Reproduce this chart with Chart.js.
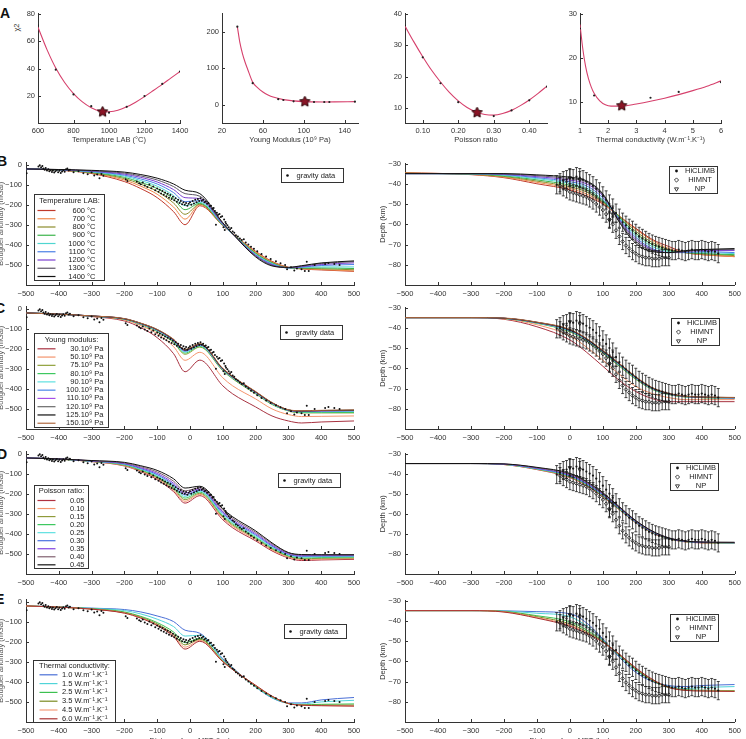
<!DOCTYPE html>
<html>
<head>
<meta charset="utf-8">
<script src="https://cdn.jsdelivr.net/npm/chart.js@4.4.1/dist/chart.umd.min.js"></script>
<style>
html, body { margin: 0; padding: 0; background: #fff; overflow: hidden; }
body { position: relative; width: 746px; height: 739px; font-family: "Liberation Sans", Arial, sans-serif; }
canvas { position: absolute; }
.letter { position: absolute; font: bold 14px "Liberation Sans", Arial, sans-serif; line-height: 14px; color: #111; }
.ytitle { position: absolute; font-size: 7.5px; color: #333; width: 20px; text-align: center; transform: rotate(-90deg); }
</style>
</head>
<body>
<div class="letter" style="left:0px; top:6px">A</div>
<div class="letter" style="left:-3px; top:154px">B</div>
<div class="letter" style="left:-5px; top:301px">C</div>
<div class="letter" style="left:-3px; top:447px">D</div>
<div class="letter" style="left:-5px; top:592px">E</div>
<div class="ytitle" style="left:6px; top:23px">χ2</div>
<script>
// ---- panel A : chi-square misfit for each parameter ----
const tempSteps = [600, 700, 800, 900, 1000, 1100, 1200, 1300, 1400]
const tempChi = [71.4, 39.3, 21.4, 12.9, 8.2, 12.4, 20.2, 29, 38]
const tempFitX = [600, 650, 700, 750, 800, 850, 900, 950, 980, 1000, 1050, 1100, 1150, 1200, 1250, 1300, 1350, 1400]
const tempFitY = [70, 54, 40.5, 30, 22, 16, 11.8, 9.3, 8.7, 8.8, 10, 12.4, 15.8, 19.8, 24.2, 28.7, 33.4, 38]
const tempBest = [964, 8.8]

const youngSteps = [35, 50, 75, 80, 90, 100, 110, 120, 125, 150]
const youngChi = [214, 59, 15.4, 13, 9.5, 8.5, 7.5, 7.5, 7.5, 8.5]
const youngFitX = [35, 37.5, 40, 42.5, 45, 50, 55, 60, 65, 70, 80, 90, 100, 110, 120, 130, 150]
const youngFitY = [214, 170, 140, 117, 98, 62, 46, 35, 27, 21, 14, 10.5, 8.6, 7.8, 7.6, 7.8, 8.6]
const youngBest = [101, 8.5]

const poissonSteps = [0.05, 0.10, 0.15, 0.20, 0.25, 0.30, 0.35, 0.40, 0.45]
const poissonChi = [36.2, 26.1, 17.9, 11.9, 8.5, 7.5, 9.3, 12.5, 16.8]
const poissonFitX = [0.05, 0.075, 0.10, 0.125, 0.15, 0.175, 0.20, 0.225, 0.25, 0.275, 0.30, 0.325, 0.35, 0.375, 0.40, 0.425, 0.45]
const poissonFitY = [36, 31, 26.3, 22, 18.3, 15, 12.3, 10.2, 8.8, 8, 7.8, 8.3, 9.3, 10.8, 12.6, 14.7, 17]
const poissonBest = [0.253, 8.6]

const condSteps = [1, 1.5, 2.5, 3.5, 4.5, 6]
const condChi = [26.6, 11.5, 9.6, 11, 12.3, 14.5]
const condFitX = [1, 1.1, 1.2, 1.3, 1.4, 1.5, 1.7, 1.9, 2.1, 2.5, 3, 3.5, 4, 4.5, 5, 5.5, 6]
const condFitY = [27.5, 22, 18, 15.3, 13.4, 12, 10.3, 9.4, 9.1, 9.1, 9.6, 10.2, 10.9, 11.7, 12.6, 13.6, 14.8]
const condBest = [2.48, 9.2]

// ---- gravity model curves (x = distance from MFT, km) ----
const distGrav = [-500, -400, -300, -200, -150, -100, -50, -15, 30, 100, 130, 200, 250, 300, 340, 400, 500]

const tempLabels = ['600 °C', '700 °C', '800 °C', '900 °C', '1000 °C', '1100 °C', '1200 °C', '1300 °C', '1400 °C']
const tempColors = ['#c0392b', '#ef8a4c', '#8c8c2a', '#3cb44b', '#4fd6d0', '#4a7fe6', '#7b3fd0', '#5d5566', '#111111']
const tempGravity = [
    [-22, -28, -45, -85, -120, -165, -235, -300, -205, -305, -345, -432, -482, -512, -520, -525, -532],
    [-22, -28, -43, -77, -108, -148, -212, -272, -200, -304, -345, -436, -485, -513, -519, -523, -530],
    [-22, -27, -41, -70, -98, -134, -192, -248, -197, -303, -345, -440, -488, -514, -517, -519, -524],
    [-22, -27, -39, -64, -89, -120, -172, -225, -193, -302, -345, -443, -490, -515, -515, -515, -518],
    [-22, -27, -37, -58, -80, -108, -155, -205, -188, -300, -345, -447, -493, -515, -513, -510, -510],
    [-22, -26, -35, -53, -72, -97, -140, -185, -180, -298, -345, -450, -496, -515, -511, -503, -498],
    [-22, -26, -33, -48, -64, -87, -125, -165, -170, -296, -345, -453, -499, -514, -509, -498, -490],
    [-22, -25, -31, -43, -57, -77, -110, -145, -158, -293, -345, -456, -502, -513, -506, -493, -484],
    [-22, -25, -29, -38, -50, -68, -97, -128, -145, -290, -345, -460, -505, -512, -504, -490, -480],
]

const youngLabels = ['30.10⁹ Pa', '50.10⁹ Pa', '75.10⁹ Pa', '80.10⁹ Pa', '90.10⁹ Pa', '100.10⁹ Pa', '110.10⁹ Pa', '120.10⁹ Pa', '125.10⁹ Pa', '150.10⁹ Pa']
const youngColors = ['#a83240', '#f4946c', '#8fa03a', '#3ec860', '#5ee0e0', '#4a86e8', '#a64ee8', '#6a6a6a', '#111111', '#b06a40']
const youngGravity = [
    [-22, -28, -40, -62, -95, -145, -225, -315, -257, -385, -425, -490, -535, -560, -570, -565, -560],
    [-22, -28, -39, -57, -85, -125, -190, -258, -218, -345, -385, -450, -500, -528, -538, -537, -535],
    [-22, -28, -38, -54, -80, -115, -170, -228, -192, -310, -350, -425, -478, -510, -520, -520, -520],
    [-22, -28, -38, -53, -78, -112, -166, -222, -188, -307, -347, -422, -476, -509, -518, -518, -518],
    [-22, -28, -38, -52, -77, -110, -163, -217, -185, -305, -345, -420, -474, -508, -515, -514, -512],
    [-22, -28, -38, -52, -76, -108, -160, -213, -182, -303, -343, -418, -472, -507, -513, -512, -510],
    [-22, -28, -37, -51, -75, -107, -158, -210, -180, -302, -342, -417, -471, -506, -512, -510, -508],
    [-22, -28, -37, -51, -74, -106, -156, -208, -178, -301, -341, -416, -470, -505, -511, -509, -507],
    [-22, -28, -37, -51, -74, -105, -155, -207, -177, -300, -340, -415, -469, -505, -510, -508, -506],
    [-22, -28, -37, -50, -73, -104, -153, -204, -175, -298, -338, -413, -468, -504, -509, -507, -505],
]

const poissonLabels = ['0.05', '0.10', '0.15', '0.20', '0.25', '0.30', '0.35', '0.40', '0.45']
const poissonColors = ['#b03040', '#f4946c', '#8f9a3a', '#3ec860', '#5ee0e0', '#4a70e0', '#8040e0', '#806070', '#111111']
const poissonGravity = [
    [-22, -28, -40, -62, -90, -130, -190, -247, -210, -330, -370, -435, -485, -520, -533, -530, -527],
    [-22, -28, -40, -60, -87, -125, -183, -238, -203, -322, -362, -428, -480, -516, -528, -526, -523],
    [-22, -28, -39, -58, -84, -120, -176, -230, -198, -316, -356, -422, -475, -512, -524, -522, -520],
    [-22, -28, -39, -56, -81, -115, -170, -222, -192, -310, -350, -417, -470, -509, -520, -518, -516],
    [-22, -28, -38, -54, -78, -110, -163, -214, -187, -304, -344, -411, -466, -505, -516, -514, -513],
    [-22, -27, -38, -52, -75, -105, -156, -206, -182, -298, -338, -405, -461, -502, -512, -511, -510],
    [-22, -27, -37, -50, -71, -99, -148, -197, -176, -291, -331, -399, -456, -498, -508, -508, -507],
    [-22, -27, -36, -47, -66, -92, -138, -186, -170, -283, -323, -392, -450, -495, -505, -505, -505],
    [-22, -27, -35, -44, -61, -84, -126, -172, -163, -275, -315, -385, -445, -493, -503, -504, -504],
]

const condLabels = ['1.0 W.m⁻¹.K⁻¹', '1.5 W.m⁻¹.K⁻¹', '2.5 W.m⁻¹.K⁻¹', '3.5 W.m⁻¹.K⁻¹', '4.5 W.m⁻¹.K⁻¹', '6.0 W.m⁻¹.K⁻¹']
const condColors = ['#4a6fd6', '#50d4d8', '#3cc050', '#7a8a20', '#f49a7a', '#a83030']
const condGravity = [
    [-22, -27, -33, -40, -52, -72, -100, -143, -158, -285, -330, -425, -480, -505, -505, -490, -478],
    [-22, -27, -34, -45, -62, -88, -125, -172, -168, -290, -333, -425, -478, -507, -510, -500, -492],
    [-22, -28, -36, -52, -74, -105, -152, -205, -183, -295, -336, -422, -475, -508, -514, -512, -510],
    [-22, -28, -37, -55, -78, -112, -163, -216, -188, -297, -337, -420, -473, -508, -515, -516, -516],
    [-22, -28, -38, -57, -81, -117, -170, -227, -193, -298, -338, -418, -472, -508, -516, -518, -520],
    [-22, -28, -38, -58, -83, -120, -175, -237, -198, -300, -339, -417, -471, -508, -516, -519, -521],
]

// ---- Moho depth model curves ----
const distMoho = [-500, -300, -200, -100, 0, 50, 100, 150, 200, 250, 300, 350, 400, 500]

const tempDepth = [
    [-34.5, -35.5, -37, -40, -43, -46, -50, -56, -62, -67.5, -71, -74, -75, -76],
    [-34.7, -35.4, -36.7, -39.3, -42.3, -45, -49.5, -56, -62.5, -68, -72, -74, -75, -76],
    [-34.8, -35.3, -36.4, -38.7, -41.5, -44, -49, -56, -63.5, -69, -72.5, -74, -74.5, -75.5],
    [-34.9, -35.2, -36.1, -38.1, -40.7, -43, -48.5, -56.5, -64.5, -70, -73, -74, -74.5, -75],
    [-35, -35.1, -35.8, -37.5, -39.8, -42, -48, -57, -65.5, -71, -73.5, -74, -74, -74.5],
    [-35, -35, -35.5, -37, -39, -41, -47, -57.5, -66.5, -72, -74, -74, -73.5, -74],
    [-35, -35, -35.3, -36.5, -38.2, -40, -46, -58, -67.5, -72.5, -74, -73.5, -73, -73],
    [-35, -35, -35.1, -36, -37.5, -39, -45.5, -58.5, -68.5, -73, -74, -73.5, -72.5, -72.5],
    [-35, -35, -35, -35.6, -36.8, -38.5, -45, -59, -69.5, -73.5, -74, -73, -72.5, -72],
]
const youngDepth = [
    [-35, -35, -35.8, -39.5, -46, -52, -59, -66, -71.5, -75, -76.5, -76.5, -76.5, -76.5],
    [-35, -35, -35.6, -38.5, -44, -49.5, -56, -63, -69, -72.5, -74.5, -75.5, -75.5, -75.5],
    [-35, -35, -35.4, -37.8, -42, -46.5, -52.5, -59, -65.5, -70.5, -73, -74.2, -74.5, -75],
    [-35, -35, -35.4, -37.7, -41.8, -46.2, -52.2, -58.7, -65.2, -70.3, -72.9, -74.1, -74.5, -74.9],
    [-35, -35, -35.4, -37.6, -41.6, -46, -52, -58.4, -65, -70.2, -72.8, -74, -74.4, -74.8],
    [-35, -35, -35.3, -37.5, -41.4, -45.8, -51.8, -58.2, -64.8, -70, -72.7, -74, -74.4, -74.7],
    [-35, -35, -35.3, -37.4, -41.2, -45.6, -51.6, -58, -64.6, -69.9, -72.6, -73.9, -74.3, -74.6],
    [-35, -35, -35.3, -37.4, -41.1, -45.5, -51.5, -57.9, -64.5, -69.8, -72.5, -73.9, -74.3, -74.5],
    [-35, -35, -35.3, -37.3, -41, -45.4, -51.4, -57.8, -64.4, -69.7, -72.5, -73.8, -74.2, -74.5],
    [-35, -35, -35.2, -37.2, -40.8, -45.2, -51.2, -57.6, -64.2, -69.6, -72.4, -73.8, -74.2, -74.4],
]
const poissonDepth = [
    [-35, -35, -35.5, -38, -42, -46, -51.5, -58, -64.5, -69.5, -72.5, -74, -74.5, -74.8],
    [-35, -35, -35.5, -37.9, -41.8, -45.8, -51.3, -57.9, -64.4, -69.4, -72.4, -73.9, -74.4, -74.7],
    [-35, -35, -35.4, -37.8, -41.6, -45.6, -51.1, -57.8, -64.3, -69.3, -72.4, -73.9, -74.4, -74.6],
    [-35, -35, -35.4, -37.7, -41.4, -45.4, -50.9, -57.6, -64.2, -69.2, -72.3, -73.8, -74.3, -74.5],
    [-35, -35, -35.4, -37.6, -41.2, -45.2, -50.7, -57.4, -64.1, -69.1, -72.3, -73.8, -74.3, -74.5],
    [-35, -35, -35.3, -37.5, -41, -45, -50.5, -57.2, -64, -69, -72.2, -73.7, -74.2, -74.4],
    [-35, -35, -35.3, -37.3, -40.7, -44.7, -50.2, -57, -63.8, -68.9, -72.2, -73.7, -74.2, -74.4],
    [-35, -35, -35.2, -37.1, -40.3, -44.3, -49.9, -56.8, -63.6, -68.8, -72.1, -73.6, -74.1, -74.3],
    [-35, -35, -35.2, -36.9, -39.9, -43.9, -49.5, -56.5, -63.4, -68.6, -72, -73.6, -74.1, -74.2],
]
const condDepth = [
    [-35, -35, -35.1, -35.5, -36.5, -41, -49, -58, -65.5, -70, -72, -72.5, -72, -71.5],
    [-35, -35, -35.2, -36.3, -38, -42.5, -49.5, -57.5, -64.5, -69.5, -72.5, -73.5, -73, -72.5],
    [-35, -35, -35.4, -37.5, -40.5, -44.5, -50, -57, -64, -69.5, -73, -74, -74.3, -74.5],
    [-35, -35, -35.5, -38, -41.5, -45.3, -50.3, -56.8, -63.8, -69.3, -72.9, -74.2, -74.5, -74.7],
    [-35, -35, -35.6, -38.4, -42.2, -45.8, -50.5, -56.6, -63.5, -69.1, -72.9, -74.3, -74.6, -74.8],
    [-35, -35, -35.7, -38.7, -42.7, -46.2, -50.6, -56.5, -63.3, -68.9, -72.9, -74.4, -74.7, -74.9],
]

// ---- observations ----
const gravX = [-498, -462, -458, -454, -450, -447, -443, -440, -436, -432, -429, -425, -421, -418, -414, -410, -406, -402, -398, -394,
    -390, -386, -382, -378, -374, -370, -366, -355, -340, -325, -312, -300, -292, -283, -276, -270, -264, -196, -191, -162,
    -155, -150, -144, -138, -130, -124, -118, -112, -106, -100, -96, -92, -88, -84, -80, -76, -72, -68, -64, -60,
    -56, -52, -48, -44, -40, -36, -32, -28, -24, -20, -16, -12, -8, -4, 0, 4, 8, 12, 16, 20,
    24, 28, 32, 36, 40, 44, 48, 52, 56, 60, 64, 68, 72, 76, 79, 82, 86, 90, 94, 98,
    102, 104, 106, 108, 110, 114, 118, 122, 126, 130, 135, 140, 146, 152, 158, 164, 170, 178, 186, 195,
    205, 218, 232, 246, 262, 276, 290, 296, 308, 318, 326, 340, 350, 356, 362, 380, 412, 422, 440, 456]
const gravY = [-44, -10, -4, -14, -8, -20, -26, -18, -30, -24, -34, -28, -37, -30, -40, -33, -27, -38, -31, -42,
    -35, -29, -36, -24, -20, -30, -26, -38, -33, -44, -48, -40, -55, -50, -68, -47, -56, -74, -82, -84,
    -93, -98, -90, -104, -112, -100, -118, -110, -128, -120, -136, -126, -144, -132, -150, -140, -158, -146, -165, -152,
    -172, -160, -178, -168, -185, -175, -192, -182, -198, -188, -200, -192, -205, -196, -188, -200, -182, -194, -176, -188,
    -172, -182, -168, -180, -175, -188, -184, -196, -192, -208, -205, -220, -216, -232, -300, -240, -250, -246, -262, -258,
    -312, -274, -326, -286, -295, -302, -312, -322, -316, -334, -340, -352, -358, -368, -376, -372, -388, -398, -410, -420,
    -432, -446, -458, -470, -482, -492, -500, -522, -512, -528, -518, -522, -530, -484, -530, -500, -496, -490, -496, -500]

const hiclimbX = [-40, -30, -20, -10, 0, 10, 20, 30, 40, 50, 60, 70, 80, 90, 100, 110, 120, 130, 140, 150,
    160, 170, 180, 190, 200, 210, 220, 230, 240, 250, 260, 270, 280, 290, 300, 310, 320, 330, 340, 350,
    360, 370, 380, 390, 400, 410, 420, 430, 440, 450]
const hiclimbY = [-40.5, -39.5, -38.5, -38, -37, -37.5, -36.5, -37, -38, -39, -40, -41, -42.5, -44, -46, -48, -50, -52, -54.5, -57,
    -59, -60.5, -62, -63, -64.5, -66, -67, -68, -69, -69.8, -70.5, -71, -71.5, -72, -72.5, -73, -73, -72.5, -73, -73.5,
    -73, -72.5, -73, -73, -72.5, -73, -73.5, -73, -73.5, -74.5]
const himntX = [-30, -20, -10, 0, 10, 20, 30, 40, 50, 60, 70, 80, 90, 100, 110, 120, 130, 140, 150, 160,
    170, 180, 190, 200, 210, 220, 230, 240, 250, 260, 270, 280, 290, 300]
const himntY = [-41, -42, -43, -44, -44.5, -45, -45.5, -46, -46.5, -47.5, -48.5, -50, -51.5, -53, -55, -57.5, -60, -63, -66, -68.5,
    -70.5, -72, -73.5, -74.5, -75.5, -76, -76.5, -76.5, -77, -77, -77, -76.5, -76.5, -76.5]
const npX = [0, 30, 120, 130]
const npY = [-37, -38, -58, -55]
const hiclimbErr = 4.5
const himntErr = 4
const npErr = 4

// ---------------------------------------------------------------------------
Chart.defaults.font.family = '"Liberation Sans", Arial, sans-serif'
Chart.defaults.font.size = 7.5
Chart.defaults.color = '#333'

const minus = v => (v < 0 ? '\u2212' + Math.abs(v) : String(v))
const pts = (xs, ys) => xs.map((x, i) => ({ x, y: ys[i] }))

function axis(min, max, ticks, size, opts = {}) {
    return {
        type: 'linear', min, max, bounds: 'data',
        afterBuildTicks: s => { s.ticks = ticks.map(v => ({ value: v })) },
        afterFit: s => { if (s.isHorizontal()) s.height = size; else s.width = size },
        grid: { display: false, drawTicks: false },
        border: { display: true, color: '#333', width: 1 },
        ticks: { padding: opts.pad || 3, autoSkip: false, maxRotation: 0, color: '#333', callback: v => (opts.fmt || minus)(v) },
        title: opts.title ? { display: true, text: opts.title, padding: 0, color: opts.titleColor || '#333' } : { display: false },
    }
}

// short ticks pointing into the plot, like the original figure
const inTicks = {
    id: 'inTicks',
    afterDraw(chart) {
        const ctx = chart.ctx, a = chart.chartArea
        ctx.save()
        ctx.strokeStyle = '#333'
        ctx.lineWidth = 1
        for (const s of Object.values(chart.scales)) {
            for (const t of s.ticks) {
                const p = Math.round(s.getPixelForValue(t.value)) + 0.5
                ctx.beginPath()
                if (s.isHorizontal()) { ctx.moveTo(p, a.bottom); ctx.lineTo(p, a.bottom - 3) }
                else { ctx.moveTo(a.left, p); ctx.lineTo(a.left + 3, p) }
                ctx.stroke()
            }
        }
        ctx.restore()
    }
}

const errorBars = {
    id: 'errorBars',
    afterDatasetsDraw(chart) {
        const ctx = chart.ctx, a = chart.chartArea, ys = chart.scales.y
        ctx.save()
        ctx.beginPath()
        ctx.rect(a.left, a.top, a.width, a.height)
        ctx.clip()
        ctx.strokeStyle = '#1a1a1a'
        ctx.lineWidth = 0.8
        chart.data.datasets.forEach((d, i) => {
            if (d.err == null) return
            chart.getDatasetMeta(i).data.forEach((p, j) => {
                const v = d.data[j].y
                const y1 = ys.getPixelForValue(v + d.err), y2 = ys.getPixelForValue(v - d.err)
                ctx.beginPath()
                ctx.moveTo(p.x, y1); ctx.lineTo(p.x, y2)
                ctx.moveTo(p.x - 1.5, y1); ctx.lineTo(p.x + 1.5, y1)
                ctx.moveTo(p.x - 1.5, y2); ctx.lineTo(p.x + 1.5, y2)
                ctx.stroke()
            })
        })
        ctx.restore()
    }
}

function legendBoxes(boxes) {
    return {
        id: 'legendBoxes',
        afterDraw(chart) {
            const ctx = chart.ctx, a = chart.chartArea
            for (const b of boxes) {
                const x = Math.round(a.left + b.x) + 0.5, y = Math.round(a.top + b.y) + 0.5
                ctx.save()
                ctx.fillStyle = '#fff'
                ctx.fillRect(x, y, b.w, b.h)
                ctx.strokeStyle = '#333'
                ctx.lineWidth = 1
                ctx.strokeRect(x, y, b.w, b.h)
                ctx.font = '7.5px "Liberation Sans", Arial, sans-serif'
                ctx.textBaseline = 'middle'
                if (b.title) {
                    ctx.fillStyle = '#222'
                    ctx.textAlign = 'center'
                    ctx.fillText(b.title, x + b.w / 2, y + b.titleY)
                }
                let ty = y + b.first
                for (const d of chart.data.datasets.filter(d => d.group === b.group)) {
                    if (b.kind === 'line') {
                        ctx.strokeStyle = d.borderColor
                        ctx.lineWidth = 1.2
                        ctx.beginPath()
                        ctx.moveTo(x + b.sx[0], ty)
                        ctx.lineTo(x + b.sx[1], ty)
                        ctx.stroke()
                    } else {
                        ctx.fillStyle = d.backgroundColor
                        ctx.strokeStyle = d.borderColor || '#111'
                        ctx.lineWidth = d.borderWidth || 0
                        Chart.helpers.drawPoint(ctx, { pointStyle: d.pointStyle, radius: d.pointRadius + 0.3, rotation: d.pointRotation || 0, borderWidth: d.borderWidth || 0 }, x + b.mx, ty)
                    }
                    ctx.fillStyle = '#222'
                    ctx.textAlign = b.align
                    ctx.fillText(d.label, x + b.tx, ty)
                    ty += b.row
                }
                ctx.restore()
            }
        }
    }
}

function makeChart(plot, pad, datasets, xs, ys, boxes) {
    const [l, t, r, b] = plot
    const cv = document.createElement('canvas')
    cv.width = Math.round(r - l + pad[0] + pad[2])
    cv.height = Math.round(b - t + pad[1] + pad[3])
    Object.assign(cv.style, { left: (l - pad[0]) + 'px', top: (t - pad[1]) + 'px', width: cv.width + 'px', height: cv.height + 'px' })
    document.body.appendChild(cv)
    return new Chart(cv, {
        type: 'scatter',
        data: { datasets },
        options: {
            responsive: false, animation: false, events: [],
            layout: { padding: { left: 0, top: pad[1], right: pad[2], bottom: 0 } },
            plugins: { legend: { display: false }, tooltip: { enabled: false } },
            scales: { x: xs, y: ys },
        },
        plugins: [inTicks, errorBars, legendBoxes(boxes || [])],
    })
}

function starImage(size) {
    const c = document.createElement('canvas')
    c.width = c.height = size
    const g = c.getContext('2d'), r = size / 2 - 1
    g.beginPath()
    for (let i = 0; i < 10; i++) {
        const ang = -Math.PI / 2 + i * Math.PI / 5, rr = i % 2 ? r * 0.5 : r
        g.lineTo(size / 2 + rr * Math.cos(ang), size / 2 + rr * Math.sin(ang))
    }
    g.closePath()
    g.fillStyle = '#8a1526'
    g.fill()
    g.strokeStyle = '#2a0508'
    g.lineWidth = 1
    g.stroke()
    return c
}
const star = starImage(13)

function chiSets(fx, fy, sx, sy, best) {
    return [
        { data: [{ x: best[0], y: best[1] }], pointStyle: star, pointRadius: 6, order: -2 },
        { data: pts(sx, sy), pointRadius: 1.1, backgroundColor: '#222', borderWidth: 0, order: -1 },
        { data: pts(fx, fy), showLine: true, pointRadius: 0, borderColor: '#d6406c', borderWidth: 1.1, cubicInterpolationMode: 'monotone' },
    ]
}

function paramCurves(xs, rows, labels, colors) {
    return rows.map((row, i) => ({
        label: labels[i], group: 'param', data: pts(xs, row),
        showLine: true, pointRadius: 0, borderWidth: 1, borderColor: colors[i],
        cubicInterpolationMode: 'monotone', order: rows.length - i,
    }))
}

const gravityData = () => ({ label: 'gravity data', group: 'data', data: pts(gravX, gravY), pointStyle: 'circle', pointRadius: 1, backgroundColor: '#111', borderColor: '#111', borderWidth: 0, order: -1 })
const mohoData = () => [
    { label: 'HiCLIMB', group: 'obs', err: hiclimbErr, data: pts(hiclimbX, hiclimbY), pointStyle: 'circle', pointRadius: 1.1, backgroundColor: '#111', borderColor: '#111', borderWidth: 0, order: -1 },
    { label: 'HIMNT', group: 'obs', err: himntErr, data: pts(himntX, himntY), pointStyle: 'rectRot', pointRadius: 1.8, backgroundColor: 'rgba(255,255,255,0)', borderColor: '#111', borderWidth: 0.8, order: -1 },
    { label: 'NP', group: 'obs', err: npErr, data: pts(npX, npY), pointStyle: 'triangle', pointRotation: 180, pointRadius: 2, backgroundColor: 'rgba(255,255,255,0)', borderColor: '#111', borderWidth: 0.8, order: -1 },
]

// ---- row A ----
const padA = [22, 6, 12, 21]
makeChart([38, 12, 180, 123], padA, chiSets(tempFitX, tempFitY, tempSteps, tempChi, tempBest),
    axis(600, 1400, [600, 800, 1000, 1200, 1400], 21, { title: 'Temperature LAB (°C)' }),
    axis(0.7, 80, [20, 40, 60, 80], 22))
makeChart([222, 12, 358, 123], padA, chiSets(youngFitX, youngFitY, youngSteps, youngChi, youngBest),
    axis(20, 153, [20, 60, 100, 140], 21, { title: 'Young Modulus (10⁹ Pa)' }),
    axis(-50, 250, [0, 100, 200], 22))
makeChart([405, 12, 547, 123], padA, chiSets(poissonFitX, poissonFitY, poissonSteps, poissonChi, poissonBest),
    axis(0.05, 0.45, [0.1, 0.2, 0.3, 0.4], 21, { title: 'Poisson ratio', fmt: v => v.toFixed(2) }),
    axis(5.3, 40, [10, 20, 30, 40], 22))
makeChart([580, 12, 721, 123], padA, chiSets(condFitX, condFitY, condSteps, condChi, condBest),
    axis(1, 6, [1, 2, 3, 4, 5, 6], 21, { title: 'Thermal conductivity (W.m⁻¹.K⁻¹)' }),
    axis(5.3, 30, [10, 20, 30], 22))

// ---- rows B to E ----
const rows = [
    { top: 158, bottom: 285, rtop: 159, labels: tempLabels, colors: tempColors, grav: tempGravity, depth: tempDepth, title: 'Temperature LAB:',
      dataBox: [255, 5], paramBox: { x: 8, y: 31, w: 70, h: 86, titleY: 6.7, first: 16, row: 8.25, sx: [3, 21], tx: 61 }, obsBox: [264, 2] },
    { top: 302, bottom: 429, rtop: 303, labels: youngLabels, colors: youngColors, grav: youngGravity, depth: youngDepth, title: 'Young modulus:',
      dataBox: [254, 18], paramBox: { x: 8, y: 26, w: 74, h: 94, titleY: 6.3, first: 15.3, row: 8.27, sx: [3, 21], tx: 69 }, obsBox: [266, 10] },
    { top: 447, bottom: 574, rtop: 449, labels: poissonLabels, colors: poissonColors, grav: poissonGravity, depth: poissonDepth, title: 'Poisson ratio:',
      dataBox: [252, 21], paramBox: { x: 8, y: 33, w: 54, h: 83, titleY: 5.5, first: 15, row: 8.04, sx: [3, 21], tx: 50 }, obsBox: [265, 9] },
    { top: 595, bottom: 722, rtop: 596, labels: condLabels, colors: condColors, grav: condGravity, depth: condDepth, title: 'Thermal conductivity:',
      dataBox: [258, 24], paramBox: { x: 7, y: 60, w: 82, h: 62, titleY: 5.7, first: 14.3, row: 8.8, sx: [6, 24], tx: 74 }, obsBox: [265, 13], last: true },
]

const distTicks = [-500, -400, -300, -200, -100, 0, 100, 200, 300, 400, 500]
for (const row of rows) {
    const xh = row.last ? 23 : 16
    const xTitle = row.last ? 'Distance from MFT (km)' : null

    makeChart([26, row.top, 354, row.bottom], [30, 4, 14, xh],
        [gravityData(), ...paramCurves(distGrav, row.grav, row.labels, row.colors)],
        axis(-500, 500, distTicks, xh, { pad: 4, title: xTitle }),
        axis(-600, 10, [0, -100, -200, -300, -400, -500], 30, { pad: 4, title: 'Bouguer anomaly (mGal)', titleColor: '#555' }),
        [
            { group: 'data', kind: 'marker', x: row.dataBox[0], y: row.dataBox[1], w: 62, h: 14, first: 7, row: 9, mx: 6, tx: 15, align: 'left' },
            Object.assign({ group: 'param', kind: 'line', title: row.title, align: 'right' }, row.paramBox),
        ])

    makeChart([405, row.rtop, 735, row.bottom], [27, 4, 10, xh],
        [...mohoData(), ...paramCurves(distMoho, row.depth, row.labels, row.colors)],
        axis(-500, 500, distTicks, xh, { pad: 4, title: xTitle }),
        axis(-90, -30, [-30, -40, -50, -60, -70, -80], 27, { pad: 4, title: 'Depth (km)' }),
        [{ group: 'obs', kind: 'marker', x: row.obsBox[0], y: row.obsBox[1], w: 48, h: 27, first: 4.5, row: 9, mx: 7, tx: 30.5, align: 'center' }])
}
</script>
</body>
</html>
